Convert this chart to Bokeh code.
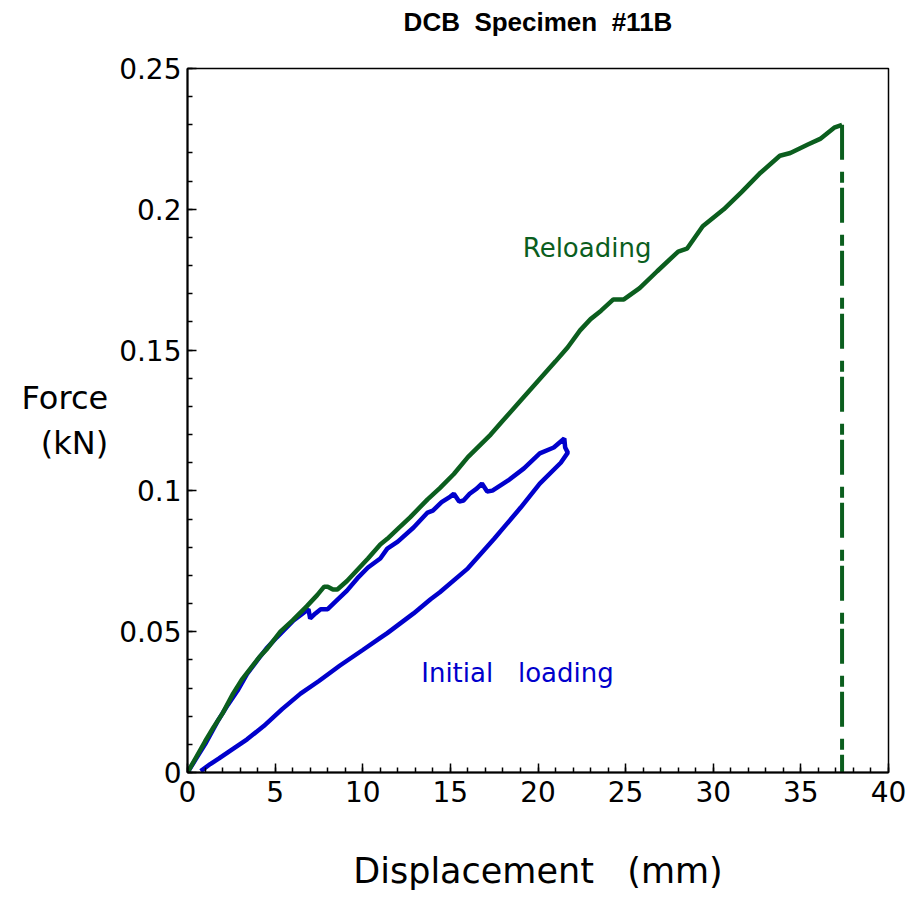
from bokeh.plotting import figure
from bokeh.models import Label, FixedTicker, Range1d, LinearAxis
from bokeh.embed import file_html
from bokeh.resources import INLINE

# ---- data ----
reload_disp = [0, 0.5, 1.0, 1.48, 2.0, 2.6, 3.1, 3.6, 4.1, 4.55, 5.3, 6.0, 6.8, 7.4, 7.8, 8.0, 8.3,
               8.55, 9.1, 9.7, 10.3, 11.0, 11.4, 12.0, 12.7, 13.7, 14.4, 15.2, 16.0, 17.3, 18.0,
               19.0, 20.0, 21.0, 21.7, 22.4, 23.0, 23.6, 24.3, 24.9, 25.8, 26.8, 28.0, 28.5, 29.4,
               30.6, 31.6, 32.7, 33.8, 34.4, 35.4, 36.1, 36.9, 37.35]
reload_force = [0, 0.0055, 0.011, 0.016, 0.021, 0.028, 0.033, 0.037, 0.041, 0.044, 0.050, 0.054,
                0.059, 0.063, 0.066, 0.066, 0.065, 0.065, 0.068, 0.072, 0.076, 0.081, 0.083, 0.0865,
                0.0906, 0.097, 0.101, 0.106, 0.112, 0.120, 0.125, 0.132, 0.139, 0.146, 0.151, 0.157,
                0.161, 0.164, 0.168, 0.168, 0.172, 0.178, 0.185, 0.186, 0.194, 0.200, 0.206, 0.213,
                0.219, 0.220, 0.223, 0.225, 0.229, 0.230]

init_disp = [0, 0.5, 1.0, 1.7, 2.3, 2.85, 3.4, 4.0, 4.5, 5.1, 6.05, 6.9, 7.0, 7.3, 7.6, 8.0, 8.5,
             9.1, 9.7, 10.3, 11.0, 11.4, 12.0, 12.9, 13.7, 14.0, 14.5, 15.0, 15.2, 15.5, 15.75, 16.1,
             16.5, 16.8, 17.1, 17.4, 18.3, 19.2, 20.1, 20.9, 21.5, 21.55, 21.7,
             21.3, 20.1, 19.0, 17.5, 16.0, 14.4, 13.87, 12.9, 11.4, 11.0, 10.0, 8.7, 7.5, 6.45, 5.4,
             4.35, 3.4, 2.45, 1.8, 1.3, 0.75]
init_force = [0, 0.005, 0.010, 0.018, 0.024, 0.029, 0.035, 0.040, 0.044, 0.048, 0.054, 0.058,
              0.0547, 0.0565, 0.058, 0.058, 0.061, 0.0646, 0.069, 0.0728, 0.076, 0.0795, 0.082,
              0.087, 0.0923, 0.093, 0.096, 0.098, 0.099, 0.0962, 0.0966, 0.099, 0.1008, 0.1026,
              0.0998, 0.1001, 0.1037, 0.108, 0.1133, 0.1154, 0.1186, 0.1154, 0.1136,
              0.1100, 0.1026, 0.0940, 0.0830, 0.0725, 0.0640, 0.0615, 0.0565, 0.0495, 0.0478,
              0.0435, 0.0380, 0.0325, 0.0280, 0.0225, 0.0165, 0.0118, 0.0078, 0.0050, 0.0030, 0.0005]

failure_disp = 37.35
failure_force = 0.230

x_ticks = [0, 5, 10, 15, 20, 25, 30, 35, 40]
x_minor = list(range(0, 41))
y_ticks = [0, 0.05, 0.1, 0.15, 0.2, 0.25]
y_tick_labels = ["0", "0.05", "0.1", "0.15", "0.2", "0.25"]
y_minor = [i / 100 for i in range(0, 26)]

title_text = "DCB\u00a0 Specimen\u00a0 #11B"
x_label = "Displacement \u00a0 (mm)"
y_label = "Force\n(kN)"
reload_text = "Reloading"
init_text = "Initial \u00a0 loading"

BLUE = "#0000CC"
GREEN = "#0B5E1E"

p = figure(width=912, height=895, output_backend="svg", toolbar_location=None,
           min_border_left=187, min_border_right=24, min_border_top=68, min_border_bottom=123,
           x_range=Range1d(0, 40), y_range=Range1d(0, 0.25))
p.grid.visible = False
p.background_fill_color = "white"
p.border_fill_color = "white"
p.outline_line_color = "black"
p.outline_line_width = 1.5

xax = p.below[0]
yax = p.left[0]

# title drawn as the label of a tick-less, line-less axis above the frame
top_axis = LinearAxis(ticker=FixedTicker(ticks=[], minor_ticks=[]), axis_line_color=None,
                      major_tick_in=0, major_tick_out=0, minor_tick_in=0, minor_tick_out=0,
                      major_tick_line_color=None, minor_tick_line_color=None,
                      axis_label=title_text, axis_label_standoff=32,
                      axis_label_text_font="Liberation Sans", axis_label_text_font_style="bold",
                      axis_label_text_font_size="26px", axis_label_text_color="black")
p.add_layout(top_axis, "above")

xax.ticker = FixedTicker(ticks=x_ticks, minor_ticks=x_minor)
yax.ticker = FixedTicker(ticks=y_ticks, minor_ticks=y_minor)
yax.major_label_overrides = dict(zip(y_ticks, y_tick_labels))
for ax in (xax, yax):
    ax.axis_line_width = 2
    ax.axis_line_color = "black"
    ax.major_tick_in = 9
    ax.major_tick_out = 0
    ax.minor_tick_in = 5
    ax.minor_tick_out = 0
    ax.major_tick_line_width = 1.5
    ax.minor_tick_line_width = 1.5
    ax.major_label_text_font = "DejaVu Sans"
    ax.major_label_text_font_size = "28px"
    ax.major_label_text_color = "black"
    ax.axis_label_text_font = "DejaVu Sans"
    ax.axis_label_text_font_style = "normal"
    ax.axis_label_text_color = "black"
xax.major_label_standoff = 8
yax.major_label_standoff = 6

xax.axis_label = x_label
xax.axis_label_text_font_size = "35px"
xax.axis_label_standoff = 46

yax.axis_label = y_label
yax.axis_label_text_font_size = "32px"
yax.axis_label_orientation = "horizontal"
yax.axis_label_text_align = "center"
yax.axis_label_standoff = 8

p.line(init_disp, init_force, line_color=BLUE, line_width=4.5)
p.line(reload_disp, reload_force, line_color=GREEN, line_width=4.5)
p.line([failure_disp, failure_disp], [failure_force, 0], line_color=GREEN, line_width=4,
       line_dash="35 12 11 5")

def lab(x, y, t, size, color):
    p.add_layout(Label(x=x, y=y, text=t, text_align="center", text_baseline="alphabetic",
                       text_font="DejaVu Sans", text_font_size=size, text_color=color))

lab(22.8, 0.1864, reload_text, "26px", GREEN)
lab(18.83, 0.0352, init_text, "26px", BLUE)

open("out.html", "w").write(file_html(p, INLINE))
